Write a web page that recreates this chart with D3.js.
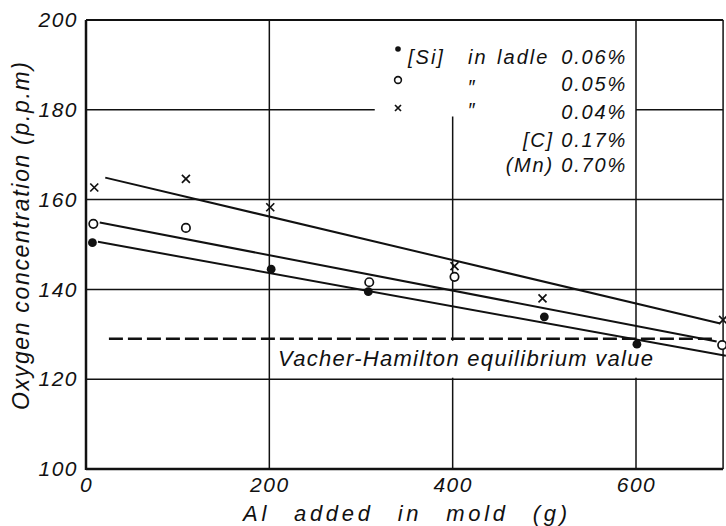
<!DOCTYPE html>
<html><head><meta charset="utf-8">
<script src="https://cdn.jsdelivr.net/npm/d3@7"></script>
<style>
html,body{margin:0;padding:0;background:#fff;}
text{font-family:"Liberation Sans",Arial,sans-serif;font-style:italic;fill:#111;}
</style></head>
<body><svg id="c" width="726" height="526"></svg>
<script>
// ---- data ----
const xTicks = [0, 200, 400, 600];
const yTicks = [100, 120, 140, 160, 180, 200];
const xMaxValue = 695;

// [Si] in ladle 0.06% (filled dots)
const si06X = [7, 202, 308, 500, 601];
const si06Y = [150.4, 144.5, 139.5, 133.9, 127.8];
// 0.05% (open circles)
const si05X = [8, 109, 309, 402, 694];
const si05Y = [154.6, 153.7, 141.6, 142.8, 127.6];
// 0.04% (crosses)
const si04X = [9, 109, 201, 402, 498, 695];
const si04Y = [162.7, 164.6, 158.3, 145.2, 138.0, 133.2];

// fitted lines [x0, y0, x1, y1]
const fit06 = [13, 150.6, 698, 125.2];
const fit05 = [15, 154.9, 688, 128.4];
const fit04 = [21, 164.9, 692, 132.4];

// Vacher-Hamilton equilibrium value
const vhValue = 129;
const vhRange = [25, 683];

const legendValues = ["0.06%", "0.05%", "0.04%"];
const legendExtra = ["[C] 0.17%", "(Mn) 0.70%"];

// ---- drawing ----
const svg = d3.select("#c");
const x = d3.scaleLinear().domain([0, 600]).range([86, 636]);
const y = d3.scaleLinear().domain([100, 200]).range([469, 20]);

const g = svg.append("g");

// horizontal grid lines
const hGrid = [
  {v: 180, a: 0, b: 315}, {v: 180, a: 600, b: xMaxValue},
  {v: 160, a: 0, b: xMaxValue}, {v: 140, a: 0, b: xMaxValue}, {v: 120, a: 0, b: xMaxValue}
];
g.selectAll(".hg").data(hGrid).enter().append("line")
  .attr("x1", d => x(d.a)).attr("x2", d => x(d.b))
  .attr("y1", d => y(d.v)).attr("y2", d => y(d.v))
  .attr("stroke", "#111").attr("stroke-width", 1.5);
// vertical grid lines
const vGrid = [{v: 200, a: 100, b: 200}, {v: 400, a: 100, b: 178.5}, {v: 600, a: 100, b: 200}];
g.selectAll(".vg").data(vGrid).enter().append("line")
  .attr("x1", d => x(d.v)).attr("x2", d => x(d.v))
  .attr("y1", d => y(d.a)).attr("y2", d => y(d.b))
  .attr("stroke", "#111").attr("stroke-width", 1.5);

// white box for equilibrium label
g.append("rect").attr("x", x(206)).attr("y", y(vhValue) + 2)
  .attr("width", x(688) - x(206)).attr("height", y(120) - y(vhValue) - 3.5)
  .attr("fill", "#fff");

// frame
g.append("line").attr("x1", x(0)).attr("x2", x(xMaxValue)).attr("y1", y(200)).attr("y2", y(200)).attr("stroke", "#111").attr("stroke-width", 2);
g.append("line").attr("x1", x(xMaxValue)).attr("x2", x(xMaxValue)).attr("y1", y(200)).attr("y2", y(100)).attr("stroke", "#111").attr("stroke-width", 1.5);
g.append("line").attr("x1", x(0)).attr("x2", x(xMaxValue)).attr("y1", y(100)).attr("y2", y(100)).attr("stroke", "#111").attr("stroke-width", 2.5);
g.append("line").attr("x1", x(0)).attr("x2", x(0)).attr("y1", y(200)).attr("y2", y(100) + 1).attr("stroke", "#111").attr("stroke-width", 2.5);

// axes labels via d3 axes
const yAxis = d3.axisLeft(y).tickValues(yTicks).tickSize(0).tickPadding(8).tickFormat(d3.format("d"));
const ya = svg.append("g").attr("transform", `translate(${x(0)},0)`).call(yAxis);
ya.select(".domain").remove();
ya.selectAll("text").style("font-family", '"Liberation Sans",Arial,sans-serif').style("font-style", "italic")
  .style("font-size", "21px").style("letter-spacing", "1.5px").attr("fill", "#111");

const xAxis = d3.axisBottom(x).tickValues(xTicks).tickSize(0).tickPadding(8).tickFormat(d3.format("d"));
const xa = svg.append("g").attr("transform", `translate(0,${y(100)})`).call(xAxis);
xa.select(".domain").remove();
xa.selectAll("text").style("font-family", '"Liberation Sans",Arial,sans-serif').style("font-style", "italic")
  .style("font-size", "21px").style("letter-spacing", "1.5px").attr("fill", "#111");

// axis titles
svg.append("text").attr("transform", "translate(29,236) rotate(-90)")
  .attr("text-anchor", "middle").style("font-size", "23px")
  .attr("textLength", 348).attr("lengthAdjust", "spacing")
  .text("Oxygen concentration (p.p.m)");
svg.append("text").attr("x", 243).attr("y", 521)
  .style("font-size", "22px").style("word-spacing", "14px")
  .attr("textLength", 324).attr("lengthAdjust", "spacing")
  .text("Al added in mold (g)");

// dashed equilibrium line
g.append("line").attr("x1", x(vhRange[0])).attr("x2", x(vhRange[1]))
  .attr("y1", y(vhValue)).attr("y2", y(vhValue))
  .attr("stroke", "#111").attr("stroke-width", 2.5).attr("stroke-dasharray", "14,5");
svg.append("text").attr("x", 278).attr("y", 366).style("font-size", "22px")
  .attr("textLength", 375).attr("lengthAdjust", "spacing")
  .text("Vacher-Hamilton equilibrium value");

// fitted lines
[fit06, fit05, fit04].forEach(f => {
  g.append("line").attr("x1", x(f[0])).attr("y1", y(f[1])).attr("x2", x(f[2])).attr("y2", y(f[3]))
    .attr("stroke", "#111").attr("stroke-width", 2);
});

// markers
const zip = (xs, ys) => xs.map((v, i) => ({x: v, y: ys[i]}));
g.selectAll(".p06").data(zip(si06X, si06Y)).enter().append("circle")
  .attr("cx", d => x(d.x)).attr("cy", d => y(d.y)).attr("r", 4.4).attr("fill", "#111");
g.selectAll(".p05").data(zip(si05X, si05Y)).enter().append("circle")
  .attr("cx", d => x(d.x)).attr("cy", d => y(d.y)).attr("r", 4.2).attr("fill", "#fff")
  .attr("stroke", "#111").attr("stroke-width", 1.7);
const cross = (sel, s) => sel.append("path")
  .attr("d", d => `M${x(d.x)-s},${y(d.y)-s}L${x(d.x)+s},${y(d.y)+s}M${x(d.x)-s},${y(d.y)+s}L${x(d.x)+s},${y(d.y)-s}`)
  .attr("stroke", "#111").attr("stroke-width", 1.7).attr("fill", "none");
cross(g.selectAll(".p04").data(zip(si04X, si04Y)).enter(), 4);

// legend
const lg = svg.append("g");
lg.append("circle").attr("cx", 398).attr("cy", 49).attr("r", 2.8).attr("fill", "#111");
lg.append("circle").attr("cx", 398).attr("cy", 80).attr("r", 3.4).attr("fill", "none").attr("stroke", "#111").attr("stroke-width", 1.6);
lg.append("path").attr("d", "M395,105L401,111M395,111L401,105").attr("stroke", "#111").attr("stroke-width", 1.7);
lg.append("text").attr("x", 408).attr("y", 64).style("font-size", "20px").style("letter-spacing", "2px").text("[Si]");
lg.append("text").attr("x", 468).attr("y", 64).style("font-size", "20px").style("letter-spacing", "2px")
  .style("word-spacing", "2px").text("in ladle");
[0, 1].forEach(i => lg.append("text").attr("x", 471).attr("y", 94 + i * 23).attr("text-anchor", "middle")
  .style("font-size", "20px").style("fill", "#111").text("\u2033"));
const rowsY = [64, 91, 119, 147, 172];
legendValues.forEach((t, i) => lg.append("text").attr("x", 627).attr("y", rowsY[i]).attr("text-anchor", "end")
  .style("font-size", "20px").style("letter-spacing", "1.8px").text(t));
legendExtra.forEach((t, i) => lg.append("text").attr("x", 627).attr("y", rowsY[i + 3]).attr("text-anchor", "end")
  .style("font-size", "20px").style("letter-spacing", "1.8px").text(t));
</script></body></html>
